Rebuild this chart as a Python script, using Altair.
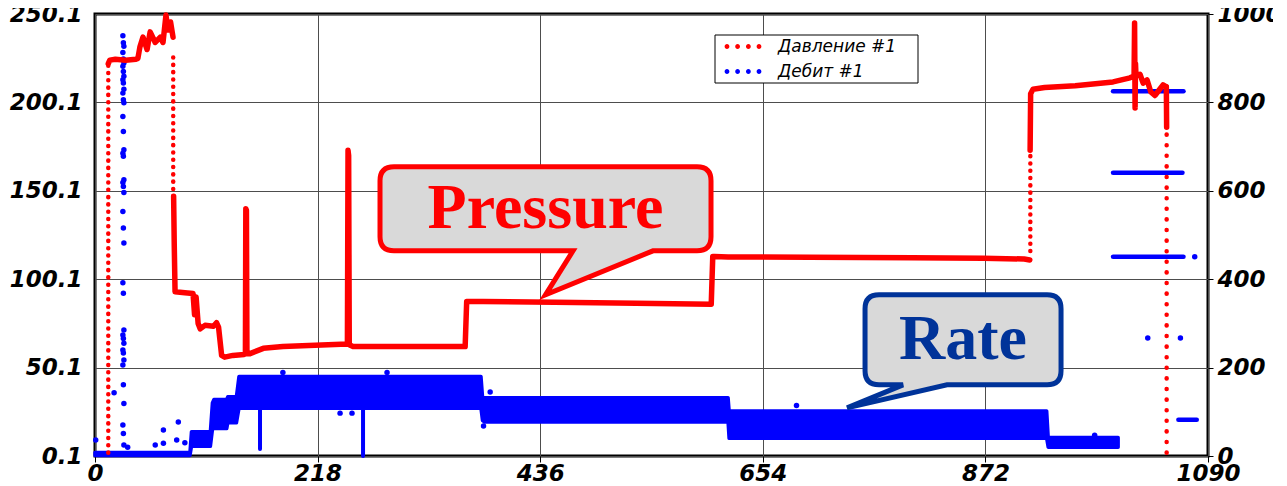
import altair as alt
import pandas as pd

# ---------------- axes ----------------
X_TICKS = [0, 218, 436, 654, 872, 1090]
P_TICKS = [0.1, 50.1, 100.1, 150.1, 200.1, 250.1]
R_TICKS = [0, 200, 400, 600, 800, 1000]

# ---------------- pressure (left axis), solid parts ----------------
p1_t = [13, 14.5, 20, 30, 40, 42, 44, 47, 51, 54, 59, 64, 66.6, 69.5, 71.5, 74, 76.4]
p1_v = [222, 224, 224.5, 224, 224.5, 225, 231.5, 237, 230, 240, 234, 237, 234, 249.5, 241, 245.6, 237]

p2_t = [77, 77.6, 78.4, 88, 96, 97.5, 99, 101, 103, 107.7, 116, 119, 121, 124, 127, 135, 146,
        147.3, 147.7, 148.3, 148.8, 151.8, 164.8, 184, 247.2, 247.8, 248.4, 249, 252.7, 360.4,
        362.5, 364, 380, 450, 530, 603.5, 605, 606.5, 620, 700, 800, 870, 910, 915.5]
p2_v = [147, 120, 93, 92.5, 92, 80, 90, 75, 72, 74, 73.5, 75.5, 73, 57, 56, 57, 57.5,
        58, 140, 139, 58, 58, 61, 62, 63.4, 173, 170, 63, 62, 62,
        62, 87.5, 87.5, 87, 86.5, 86, 113, 113, 112.7, 112.5, 112.2, 112, 111.5, 111]

p3_t = [915.8, 916.3, 918.6, 930, 960, 997, 1013.6, 1017.6, 1018.1, 1018.6, 1019, 1019.5,
        1023.4, 1026.5, 1030.3, 1034, 1038, 1042, 1046, 1048.8]
p3_v = [173, 205, 207.5, 208.5, 209.5, 211.7, 214, 215, 245, 197, 222, 215,
        216, 211, 212.8, 206, 204, 207, 210, 209]

p4_t = [1049.2, 1049.5]
p4_v = [209, 186]

# pressure, sparse dotted vertical columns
pd_t = [13, 76.6, 916]
pd_lo = [2, 147, 116]
pd_hi = [221, 229, 172]
pd2_t = [1049.5]
pd2_lo = [2]
pd2_hi = [185]

# ---------------- rate (right axis) ----------------
rb_t = [0, 93, 94.5, 113, 115, 116.5, 129, 130, 138.5, 141, 378, 379.5, 381.5, 620, 621, 932, 933.5, 1002]
rb_hi = [8, 8, 55, 55, 120, 128, 128, 134, 134, 180, 180, 134, 132, 132, 102, 102, 42, 42]
rb_lo = [1, 1, 22, 22, 60, 62, 62, 75, 75, 108, 108, 80, 77, 77, 40, 40, 20, 20]

rdip_t = [161.6, 262.5]
rdip_lo = [16, 0]
rdip_hi = [108, 108]

rpt_t = [27.3, 27.8, 28.3, 27.3, 27.8, 28.3, 27.3, 27.8, 28.3, 27.3, 27.8, 28.3, 27.3, 27.8,
         28.3, 27.3, 27.8, 28.3, 27.3, 27.8, 28.3, 27.3, 27.8, 28.3, 27.3, 27.8, 28.3, 27.3,
         27.8, 28.3, 27.3, 27.8, 28.3, 27.3, 27.8, 28.3, 27.3, 27.8, 28.3, 27.3, 27.8, 28.3,
         0.7, 18.7, 32, 59, 67, 67, 80, 81.6, 88, 184, 286, 240, 251.7, 387, 380.5, 687,
         979, 1031, 1063, 1077]
rpt_v = [951, 935, 927, 913, 898, 889, 882, 870, 859, 851, 844, 830, 821, 806,
         799, 768, 734, 693, 685, 678, 625, 619, 610, 596, 553, 516, 482, 392,
         368, 285, 274, 266, 255, 240, 233, 217, 206, 161, 119, 70, 51, 25,
         36, 143, 20, 25, 29, 59, 36, 77, 30, 189, 189, 97, 97, 145, 68, 114,
         47, 267, 267, 451]

rseg_t0 = [997, 997, 997, 1061]
rseg_t1 = [1066, 1065, 1066, 1079]
rseg_v = [825, 641, 451, 82]

LEGEND_NAMES = ["Давление #1", "Дебит #1"]
LEGEND_COLORS = ["#ff0000", "#0000ff"]

RED = "#ff0000"
BLUE = "#0000ff"
FONT = "DejaVu Sans"

# ---------------- tables ----------------
p_rows = []
for seg, (ts, vs) in enumerate([(p1_t, p1_v), (p2_t, p2_v), (p3_t, p3_v), (p4_t, p4_v)]):
    for t, v in zip(ts, vs):
        p_rows.append({"t": t, "p": v, "seg": seg})
p_df = pd.DataFrame(p_rows)
pd_df = pd.DataFrame({"t": pd_t, "lo": pd_lo, "hi": pd_hi})
pd2_df = pd.DataFrame({"t": pd2_t, "lo": pd2_lo, "hi": pd2_hi})
rb_df = pd.DataFrame({"t": rb_t, "hi": rb_hi, "lo": rb_lo})
rdip_df = pd.DataFrame({"t": rdip_t, "lo": rdip_lo, "hi": rdip_hi})
rpt_df = pd.DataFrame({"t": rpt_t, "r": rpt_v})
rseg_df = pd.DataFrame({"t0": rseg_t0, "t1": rseg_t1, "r": rseg_v})

# ---------------- scales / axes ----------------
x_scale = alt.Scale(domain=[0, 1090], nice=False, zero=False)
p_scale = alt.Scale(domain=[0.1, 250.1], nice=False, zero=False)
r_scale = alt.Scale(domain=[0, 1000], nice=False, zero=False)

lab = dict(labelFont=FONT, labelFontSize=23, labelFontWeight="bold",
           labelFontStyle="italic", labelColor="black", labelOverlap=False)

x_axis = alt.Axis(values=X_TICKS, format="d", title=None, grid=True, gridColor="#4d4d4d",
                  gridWidth=1, domain=False, ticks=True, tickSize=6, tickColor="black",
                  labelPadding=0, labelFlush=False, **lab)
p_axis = alt.Axis(values=P_TICKS, format=".1f", title=None, orient="left", grid=True,
                  gridColor="#4d4d4d", gridWidth=1, domain=False, ticks=False, tickSize=0,
                  labelPadding=13, **lab)
r_axis = alt.Axis(values=R_TICKS, format="d", title=None, orient="right", grid=False,
                  domain=False, ticks=True, tickSize=5, tickColor="black",
                  labelPadding=4, **lab)

X = lambda f="t": alt.X(f"{f}:Q", scale=x_scale, axis=x_axis)
YP = lambda f: alt.Y(f"{f}:Q", scale=p_scale, axis=p_axis)
YR = lambda f: alt.Y(f"{f}:Q", scale=r_scale, axis=r_axis)

# ---------------- rate layers ----------------
band = alt.Chart(rb_df).mark_area(color=BLUE, stroke=BLUE, strokeWidth=3.5, opacity=1,
                                  strokeJoin="round").encode(
    x=X(), y=YR("hi"), y2="lo:Q")
dips = alt.Chart(rdip_df).mark_rule(color=BLUE, strokeWidth=4, strokeCap="round").encode(
    x=X(), y=YR("lo"), y2="hi:Q")
rpts = alt.Chart(rpt_df).mark_circle(color=BLUE, size=30, opacity=1).encode(x=X(), y=YR("r"))
rsegs = alt.Chart(rseg_df).mark_rule(color=BLUE, strokeWidth=4.5, strokeCap="round").encode(
    x=X("t0"), x2="t1:Q", y=YR("r"))
rate = alt.layer(band, dips, rpts, rsegs)

# ---------------- pressure layers ----------------
pline = alt.Chart(p_df).mark_line(color=RED, strokeWidth=5.5, strokeJoin="round",
                                  strokeCap="round").encode(
    x=X(), y=YP("p"), detail="seg:N", order="t:Q")
pdots = alt.Chart(pd_df).mark_rule(color=RED, strokeWidth=4.5, strokeCap="round",
                                   strokeDash=[0.1, 7.2]).encode(x=X(), y=YP("lo"), y2="hi:Q")
pdots2 = alt.Chart(pd2_df).mark_rule(color=RED, strokeWidth=4.5, strokeCap="round",
                                     strokeDash=[0.1, 10.5]).encode(x=X(), y=YP("lo"), y2="hi:Q")

# callouts (speech bubbles), anchored in data coordinates
P_PATH = ("M -0.7575,-0.21 L 0.7575,-0.21 Q 0.8275,-0.21 0.8275,-0.14 L 0.8275,0.14 "
          "Q 0.8275,0.21 0.7575,0.21 L 0.5375,0.21 L 0,0.43 L 0.1375,0.21 L -0.7575,0.21 "
          "Q -0.8275,0.21 -0.8275,0.14 L -0.8275,-0.14 Q -0.8275,-0.21 -0.7575,-0.21 Z")
R_PATH = ("M -0.42,-0.225 L 0.42,-0.225 Q 0.49,-0.225 0.49,-0.155 L 0.49,0.155 "
          "Q 0.49,0.225 0.42,0.225 L -0.08,0.225 L -0.58,0.34 L -0.3,0.225 L -0.42,0.225 "
          "Q -0.49,0.225 -0.49,0.155 L -0.49,-0.155 Q -0.49,-0.225 -0.42,-0.225 Z")

callouts = pd.DataFrame({"t": [441.2, 850.1], "p": [139.9, 65.8], "label": ["Pressure", "Rate"]})
p_call = callouts.iloc[[0]]
r_call = callouts.iloc[[1]]

p_bub = alt.Chart(p_call).mark_point(shape=P_PATH, size=160000, filled=True, fill="#d9d9d9",
                                     stroke=RED, strokeWidth=5, opacity=1).encode(x=X(), y=YP("p"))
p_txt = alt.Chart(p_call).mark_text(font="Liberation Serif", fontSize=64, fontWeight="bold",
                                    color=RED, align="center", baseline="middle").encode(
    x=X(), y=YP("p"), text="label:N")
r_bub = alt.Chart(r_call).mark_point(shape=R_PATH, size=160000, filled=True, fill="#d9d9d9",
                                     stroke="#003399", strokeWidth=5, opacity=1).encode(x=X(), y=YP("p"))
r_txt = alt.Chart(r_call).mark_text(font="Liberation Serif", fontSize=64, fontWeight="bold",
                                    color="#003399", align="center", baseline="middle").encode(
    x=X(), y=YP("p"), text="label:N")

# legend box (inside plot, top right of centre)
one = pd.DataFrame({"k": [0]})
DOTS = " ".join(
    f"M {c - 0.12},0 A 0.12,0.12 0 1,0 {c + 0.12},0 A 0.12,0.12 0 1,0 {c - 0.12},0 Z"
    for c in (-0.8, -0.27, 0.27, 0.8))
leg_box = alt.Chart(one).mark_rect(fill="white", stroke="black", strokeWidth=1).encode(
    x=alt.value(620), x2=alt.value(823), y=alt.value(21), y2=alt.value(69))
leg_layers = [leg_box]
for i, (name, col) in enumerate(zip(LEGEND_NAMES, LEGEND_COLORS)):
    yy = 32.5 + 25 * i
    leg_layers.append(alt.Chart(one).mark_point(shape=DOTS, size=1600, filled=True, fill=col,
                                                strokeWidth=0, opacity=1).encode(
        x=alt.value(648), y=alt.value(yy)))
    leg_layers.append(alt.Chart(one).mark_text(text=name, font=FONT, fontSize=17,
                                               fontStyle="italic", color="black", align="left",
                                               baseline="middle").encode(
        x=alt.value(683), y=alt.value(yy)))

pressure = alt.layer(pline, pdots, pdots2, p_bub, p_txt, r_bub, r_txt, *leg_layers)

chart = alt.layer(rate, pressure).resolve_scale(y="independent").properties(
    width=1113, height=442,
    padding={"left": 87, "top": 6, "right": 65, "bottom": 30},
    autosize=alt.AutoSizeParams(type="none"),
    background="white",
).configure_view(stroke="black", strokeWidth=3)

chart.save("out.html", embed_options={"renderer": "svg", "actions": False})
